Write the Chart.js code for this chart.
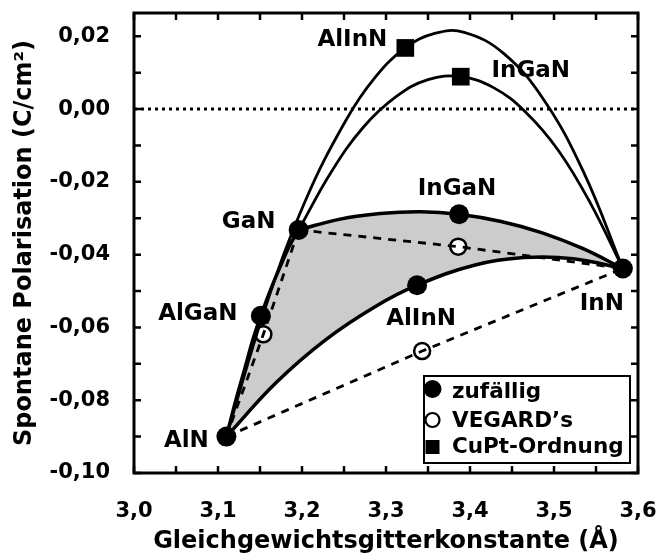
<!DOCTYPE html>
<html>
<head>
<meta charset="utf-8">
<script src="https://cdn.jsdelivr.net/npm/chart.js@4.4.1/dist/chart.umd.min.js"></script>
<style>
  html, body { margin: 0; padding: 0; background: #fff; }
  #wrap { width: 670px; height: 556px; }
</style>
</head>
<body>
<div id="wrap"><canvas id="chart" width="670" height="556"></canvas></div>
<script>
// Binary nitrides and ternary alloys with random ordering (filled circles)
const randomNames = ['AlN', 'AlGaN', 'GaN', 'InGaN', 'InN', 'AlInN'];
const randomA = [3.110, 3.151, 3.196, 3.387, 3.582, 3.337];
const randomP = [-0.0900, -0.0568, -0.0332, -0.0289, -0.0438, -0.0484];

// Ternaries after Vegard's law (open circles)
const vegardNames = ['AlGaN', 'InGaN', 'AlInN'];
const vegardA = [3.154, 3.386, 3.343];
const vegardP = [-0.0619, -0.0378, -0.0665];

// CuPt-ordered ternaries (squares)
const cuptNames = ['AlInN', 'InGaN'];
const cuptA = [3.323, 3.389];
const cuptP = [0.0168, 0.0089];

// Bowing curves, random alloys
const algaNRandA = [3.110, 3.121, 3.132, 3.142, 3.151, 3.164, 3.175, 3.185, 3.196];
const algaNRandP = [-0.0900, -0.0802, -0.0712, -0.0630, -0.0568, -0.0488, -0.0428, -0.0376, -0.0332];
const inGaNRandA = [3.196, 3.244, 3.293, 3.341, 3.387, 3.437, 3.486, 3.534, 3.582];
const inGaNRandP = [-0.0332, -0.0303, -0.0287, -0.0282, -0.0289, -0.0309, -0.0340, -0.0383, -0.0438];
const alInNRandA = [3.110, 3.169, 3.228, 3.287, 3.337, 3.405, 3.464, 3.523, 3.582];
const alInNRandP = [-0.0900, -0.0752, -0.0634, -0.0543, -0.0484, -0.0429, -0.0408, -0.0411, -0.0438];

// Bowing curves, CuPt ordering
const alInNCuPtA = [3.110, 3.157, 3.204, 3.252, 3.287, 3.323, 3.358, 3.393, 3.440, 3.488, 3.535, 3.582];
const alInNCuPtP = [-0.0900, -0.0541, -0.0252, -0.0032, 0.0087, 0.0168, 0.0208, 0.0211, 0.0153, 0.0025, -0.0172, -0.0438];
const inGaNCuPtA = [3.196, 3.235, 3.273, 3.312, 3.350, 3.389, 3.428, 3.466, 3.505, 3.543, 3.582];
const inGaNCuPtP = [-0.0332, -0.0172, -0.0050, 0.0034, 0.0081, 0.0089, 0.0059, -0.0008, -0.0113, -0.0257, -0.0438];

// Axis ticks
const xTickValues = [3.0, 3.1, 3.2, 3.3, 3.4, 3.5, 3.6];
const yTickValues = [0.02, 0.00, -0.02, -0.04, -0.06, -0.08, -0.10];
const xRange = [3.0, 3.6];
const yRange = [-0.10, 0.0264];

// Legend entries
const legendLabels = ['zufällig', 'VEGARD’s', 'CuPt-Ordnung'];

const FONT = 'DejaVu Sans';

function pts(xs, ys) { return xs.map((v, i) => ({ x: v, y: ys[i] })); }
function idx(names, n) { return names.indexOf(n); }
function randPt(n) { const i = idx(randomNames, n); return { x: randomA[i], y: randomP[i] }; }
function vegPt(n) { const i = idx(vegardNames, n); return { x: vegardA[i], y: vegardP[i] }; }

function curve(data, extra) {
  return Object.assign({
    type: 'scatter', data, showLine: true, pointRadius: 0, pointHoverRadius: 0,
    borderColor: '#000', backgroundColor: '#000', fill: false, tension: 0.4
  }, extra);
}

const datasets = [
  curve(pts(xRange, [0, 0]), { borderWidth: 3, borderDash: [3, 4], tension: 0, order: 9 }),
  curve(pts(algaNRandA, algaNRandP), { borderWidth: 3.5, order: 5 }),
  curve(pts(inGaNRandA, inGaNRandP), { borderWidth: 3.5, order: 5 }),
  curve(pts(alInNRandA, alInNRandP), { borderWidth: 3.5, order: 5 }),
  curve(pts(alInNCuPtA, alInNCuPtP), { borderWidth: 2.8, order: 5 }),
  curve(pts(inGaNCuPtA, inGaNCuPtP), { borderWidth: 2.8, order: 5 }),
  curve([randPt('AlN'), vegPt('AlGaN'), randPt('GaN')], { borderWidth: 2.8, borderDash: [8, 7], tension: 0, order: 4 }),
  curve([randPt('GaN'), vegPt('InGaN'), randPt('InN')], { borderWidth: 2.8, borderDash: [8, 7], tension: 0, order: 4 }),
  curve([randPt('AlN'), vegPt('AlInN'), randPt('InN')], { borderWidth: 2.8, borderDash: [8, 7], tension: 0, order: 4 }),
  { type: 'scatter', data: pts(vegardA, vegardP), showLine: false, pointRadius: 8, pointHoverRadius: 8,
    pointBackgroundColor: '#fff', pointBorderColor: '#000', pointBorderWidth: 2.5, order: 6 },
  { type: 'scatter', data: pts(randomA, randomP), showLine: false, pointRadius: 10, pointHoverRadius: 10,
    pointBackgroundColor: '#000', pointBorderColor: '#000', pointBorderWidth: 0, order: 1 },
  { type: 'scatter', data: pts(cuptA, cuptP), showLine: false, pointStyle: 'rect', pointRadius: 12.5, pointHoverRadius: 12.5,
    pointBackgroundColor: '#000', pointBorderColor: '#000', pointBorderWidth: 0, order: 1 }
];

// Labels next to the marked alloys: anchor point plus text offset in pixels
const pointLabels = [
  { text: 'AlN',   at: () => randPt('AlN'),   dx: -40, dy: 4 },
  { text: 'GaN',   at: () => randPt('GaN'),   dx: -50, dy: -8 },
  { text: 'AlGaN', at: () => randPt('AlGaN'), dx: -63, dy: -2 },
  { text: 'InGaN', at: () => randPt('InGaN'), dx: -2,  dy: -25 },
  { text: 'AlInN', at: () => randPt('AlInN'), dx: 4,   dy: 34 },
  { text: 'InN',   at: () => randPt('InN'),   dx: -21, dy: 36 },
  { text: 'AlInN', at: () => ({ x: cuptA[0], y: cuptP[0] }), dx: -53, dy: -8 },
  { text: 'InGaN', at: () => ({ x: cuptA[1], y: cuptP[1] }), dx: 70,  dy: -6 }
];

// Grey band enclosed by the three random-alloy curves
const bandFill = {
  id: 'bandFill',
  beforeDatasetsDraw(chart) {
    const ctx = chart.ctx;
    const parts = [[1, false], [2, false], [3, true]];
    ctx.save();
    ctx.beginPath();
    let started = false;
    parts.forEach(([di, reverse]) => {
      const meta = chart.getDatasetMeta(di);
      meta.dataset.updateControlPoints(chart.chartArea, 'x');
      const arr = reverse ? meta.data.slice().reverse() : meta.data;
      arr.forEach((p, k) => {
        if (k === 0) {
          if (started) ctx.lineTo(p.x, p.y); else ctx.moveTo(p.x, p.y);
          started = true;
          return;
        }
        const q = arr[k - 1];
        if (!reverse) ctx.bezierCurveTo(q.cp2x, q.cp2y, p.cp1x, p.cp1y, p.x, p.y);
        else ctx.bezierCurveTo(q.cp1x, q.cp1y, p.cp2x, p.cp2y, p.x, p.y);
      });
    });
    ctx.closePath();
    ctx.fillStyle = '#cccccc';
    ctx.fill();
    ctx.restore();
  }
};

// Frame, inward ticks on all four sides, alloy labels and legend box
const overlay = {
  id: 'overlay',
  afterDatasetsDraw(chart) {
    const { ctx, chartArea: ca, scales: { x, y } } = chart;
    ctx.save();
    ctx.strokeStyle = '#000';
    ctx.lineWidth = 2.5;
    ctx.beginPath();
    const tl = 7;
    for (let k = 0; k <= 12; k++) {
      const px = x.getPixelForValue(xRange[0] + k * 0.05);
      ctx.moveTo(px, ca.bottom); ctx.lineTo(px, ca.bottom - tl);
      ctx.moveTo(px, ca.top); ctx.lineTo(px, ca.top + tl);
    }
    for (let k = 0; k <= 12; k++) {
      const py = y.getPixelForValue(-0.10 + k * 0.01);
      if (py < ca.top) continue;
      ctx.moveTo(ca.left, py); ctx.lineTo(ca.left + tl, py);
      ctx.moveTo(ca.right, py); ctx.lineTo(ca.right - tl, py);
    }
    ctx.stroke();
    ctx.lineWidth = 3;
    ctx.strokeRect(ca.left, ca.top, ca.right - ca.left, ca.bottom - ca.top);

    // alloy labels
    ctx.fillStyle = '#000';
    ctx.font = 'bold 23px "' + FONT + '"';
    ctx.textAlign = 'center';
    ctx.textBaseline = 'middle';
    pointLabels.forEach(l => {
      const a = l.at();
      ctx.fillText(l.text, x.getPixelForValue(a.x) + l.dx, y.getPixelForValue(a.y) + l.dy);
    });

    // legend
    const bx = ca.right - 214, by = ca.bottom - 97, bw = 206, bh = 87;
    ctx.fillStyle = '#fff';
    ctx.fillRect(bx, by, bw, bh);
    ctx.lineWidth = 2;
    ctx.strokeRect(bx, by, bw, bh);
    const mx = bx + 8.5;
    ctx.fillStyle = '#000';
    ctx.beginPath(); ctx.arc(mx, by + 13, 9, 0, Math.PI * 2); ctx.fill();
    ctx.beginPath(); ctx.arc(mx, by + 44, 7, 0, Math.PI * 2);
    ctx.lineWidth = 2.2; ctx.stroke();
    ctx.fillRect(mx - 7, by + 64, 14, 14);
    ctx.font = 'bold 21.5px "' + FONT + '"';
    ctx.textAlign = 'left';
    ctx.textBaseline = 'alphabetic';
    const tx = bx + 28;
    ctx.fillText(legendLabels[0], tx, by + 22);
    ctx.fillText(legendLabels[1], tx, by + 51);
    ctx.fillText(legendLabels[2], tx, by + 77);
    ctx.restore();
  }
};

const tickFont = { family: FONT, size: 21, weight: 'bold', lineHeight: 1.2 };
const titleFont = { family: FONT, size: 24, weight: 'bold', lineHeight: 1.2 };

new Chart(document.getElementById('chart'), {
  type: 'scatter',
  data: { datasets },
  options: {
    responsive: false,
    devicePixelRatio: 1,
    animation: false,
    events: [],
    layout: { padding: { top: 13, right: 32, left: 0, bottom: 0 } },
    plugins: { legend: { display: false }, tooltip: { enabled: false } },
    scales: {
      x: {
        type: 'linear', position: 'bottom', min: xRange[0], max: xRange[1],
        afterBuildTicks: s => { s.ticks = xTickValues.map(v => ({ value: v })); },
        afterFit: s => { s.height = 83; },
        grid: { display: false, drawTicks: true, tickLength: 26 },
        border: { display: false },
        ticks: { color: '#000', font: tickFont, padding: 0, autoSkip: false, maxRotation: 0,
                 callback: v => v.toFixed(1).replace('.', ',') },
        title: { display: true, text: 'Gleichgewichtsgitterkonstante (Å)', color: '#000', font: titleFont,
                 padding: { top: 0, bottom: 0 } }
      },
      y: {
        type: 'linear', position: 'left', min: yRange[0], max: yRange[1],
        afterBuildTicks: s => { s.ticks = yTickValues.map(v => ({ value: v })); },
        afterFit: s => { s.width = 134; },
        grid: { display: false, drawTicks: true, tickLength: 24 },
        border: { display: false },
        ticks: { color: '#000', font: tickFont, padding: 0, autoSkip: false,
                 callback: v => { const t = v.toFixed(2).replace('.', ','); return t === '-0,00' ? '0,00' : t; } },
        title: { display: true, text: 'Spontane Polarisation (C/cm²)', color: '#000', font: titleFont,
                 padding: { top: 10, bottom: 0 } }
      }
    }
  },
  plugins: [bandFill, overlay]
});
</script>
</body>
</html>
